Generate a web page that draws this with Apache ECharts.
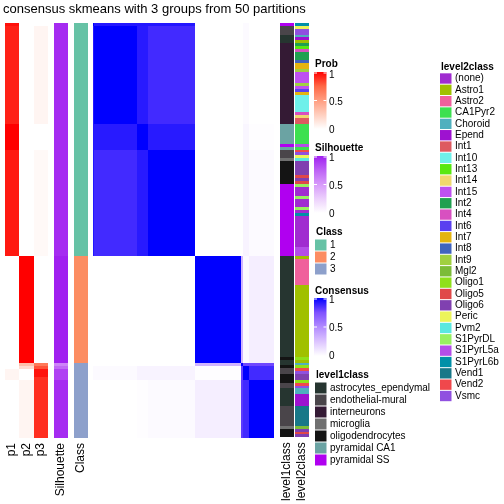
<!DOCTYPE html>
<html><head><meta charset="utf-8">
<script src="https://cdn.jsdelivr.net/npm/echarts@6/dist/echarts.min.js"></script>
<style>html,body{margin:0;padding:0;background:#fff}#c{width:504px;height:504px}</style>
</head><body><div id="c"></div>
<script>
// ---------------- DATA ----------------
const titleText = 'consensus skmeans with 3 groups from 50 partitions';
const probNames = ['p1', 'p2', 'p3'];
// run-length lists: [value, number of samples], in row/column order
const p1Runs = [[0.96,1],[0.92,34],[1,9],[0.94,37],[0,37],[0,1],[0,1],[0.05,4],[0,20]];
const p2Runs = [[0,81],[1,37],[0.33,1],[0.18,1],[0,4],[0.05,20]];
const p3Runs = [[0,1],[0.05,34],[0,9],[0.03,37],[0,37],[0.67,1],[0.8,1],[0.95,3],[0.88,1],[0.89,20]];
const silRuns = [[0.96,81],[1,37],[0.6,1],[0.72,1],[0.87,4],[0.96,20]];
const classNames = ['1', '2', '3'];
const classRuns = [['1',81],['2',37],['3',26]];
const level1Names = ['astrocytes_ependymal','endothelial-mural','interneurons','microglia','oligodendrocytes','pyramidal CA1','pyramidal SS'];
const level1Runs = [['pyramidal SS',1],['endothelial-mural',3],['astrocytes_ependymal',3],['interneurons',28],
  ['pyramidal CA1',7],['pyramidal SS',1],['pyramidal CA1',1],['endothelial-mural',3],['microglia',1],
  ['oligodendrocytes',8],['pyramidal SS',25],['astrocytes_ependymal',35],['oligodendrocytes',1],
  ['astrocytes_ependymal',2],['oligodendrocytes',1],['endothelial-mural',2],['oligodendrocytes',3],
  ['endothelial-mural',2],['astrocytes_ependymal',6],['endothelial-mural',7],['microglia',1],['oligodendrocytes',3]];
const level2Names = ['(none)','Astro1','Astro2','CA1Pyr2','Choroid','Epend','Int1','Int10','Int13','Int14','Int15',
  'Int2','Int4','Int6','Int7','Int8','Int9','Mgl2','Oligo1','Oligo5','Oligo6','Peric','Pvm2','S1PyrDL',
  'S1PyrL5a','S1PyrL6b','Vend1','Vend2','Vsmc'];
const level2Runs = [['S1PyrL6b',1],['Peric',1],['Vsmc',2],['Choroid',1],['Epend',1],['Astro1',1],
  ['Int2',1],['Int13',1],['Int4',1],['Int2',3],['Int8',1],['Int7',2],['Int9',1],['Int15',4],['Int9',1],
  ['Int15',1],['Int6',1],['Int7',1],['Int10',6],['Int4',1],['Int14',1],['Int1',2],
  ['CA1Pyr2',7],['S1PyrL5a',1],['CA1Pyr2',1],['Vend2',1],['Vsmc',1],['Peric',1],['Pvm2',1],
  ['Oligo6',5],['Oligo5',1],['Oligo6',1],['Oligo5',1],
  ['S1PyrDL',1],['(none)',3],['S1PyrDL',1],['(none)',3],['S1PyrDL',1],['(none)',1],['S1PyrL6b',1],['(none)',11],['S1PyrL5a',3],
  ['Astro1',1],['Astro2',9],['Astro1',25],['Oligo1',1],['Astro1',1],
  ['Choroid',1],['Oligo1',1],['Vend2',1],['Vsmc',1],['Oligo6',2],['Oligo1',1],['Vend2',1],['Vsmc',1],
  ['Choroid',2],['Epend',4],['Vend1',7],['Mgl2',1],['Oligo6',1],['Oligo5',1],['Oligo6',1]];
// consensus: samples fall into blocks; value between two blocks
const consBlockRuns = [[0,1],[1,34],[2,9],[3,37],[4,37],[5,1],[6,5],[7,20]];
const consBlockValues = [
  [1.00,0.93,0.93,0.93,0.00,0.00,0.02,0.00],
  [0.93,1.00,0.92,0.87,0.00,0.00,0.02,0.00],
  [0.93,0.92,1.00,0.92,0.00,0.00,0.04,0.01],
  [0.93,0.87,0.92,1.00,0.00,0.00,0.05,0.02],
  [0.00,0.00,0.00,0.00,1.00,0.32,0.02,0.07],
  [0.00,0.00,0.00,0.00,0.32,1.00,0.78,0.78],
  [0.02,0.02,0.05,0.05,0.01,0.80,1.00,0.87],
  [0.00,0.00,0.01,0.02,0.07,0.82,0.87,1.00]];
const legendTicks = ['1', '0.5', '0'];

// ---------------- STYLE ----------------
const probColors = ['#ffffff','#ffcfbf','#ff9e81','#ff6846','#ff0000'];
const silColors = ['#ffffff','#ecd0fc','#d79bfa','#bd62f5','#a020f0'];
const consColors = ['#ffffff','#dcc4ff','#b28bff','#7e51ff','#0000ff'];
const classColors = ['#66c2a5','#fc8d62','#8da0cb'];
const level1Colors = ['#263530','#4a454a','#341a34','#707070','#141414','#6ba3a3','#b000f0'];
const level2Colors = ['#a02cd0','#a0c000','#f0609c','#3de050','#4fb0be','#9e12d0','#de5a60','#6ef0ea','#58e810',
  '#f0d86e','#be50f0','#20a050','#d850c0','#5a40f0','#e4b410','#4064be','#a0d040','#7cbc38','#90e01a',
  '#e04848','#8040b0','#ecf45a','#5ae8e0','#98f060','#b44ee8','#0090a8','#187888','#f0484c','#9050e0'];
const FONT = 'Liberation Sans, Arial, sans-serif';

function expand(runs) { const out = []; runs.forEach(([v, n]) => { for (let i = 0; i < n; i++) out.push(v); }); return out; }
const p1 = expand(p1Runs), p2 = expand(p2Runs), p3 = expand(p3Runs), sil = expand(silRuns);
const cls = expand(classRuns), lv1 = expand(level1Runs), lv2 = expand(level2Runs), blk = expand(consBlockRuns);
const N = p1.length;
const samples = Array.from({length: N}, (_, i) => 's' + (i + 1));

const probData = [], silData = [], classData = [], lv1Data = [], lv2Data = [], consData = [];
for (let i = 0; i < N; i++) {
  probData.push([0, i, p1[i]], [1, i, p2[i]], [2, i, p3[i]]);
  silData.push([0, i, sil[i]]);
  classData.push([0, i, classNames.indexOf(cls[i])]);
  lv1Data.push([0, i, level1Names.indexOf(lv1[i])]);
  lv2Data.push([0, i, level2Names.indexOf(lv2[i])]);
  for (let j = 0; j < N; j++) consData.push([j, i, consBlockValues[blk[i]][blk[j]]]);
}

const TOP = 23, H = 415;
const cols = [
  {left: 5, width: 43, cats: probNames, labels: true},
  {left: 54, width: 14, cats: ['Silhouette'], labels: true},
  {left: 74, width: 14, cats: ['Class'], labels: true},
  {left: 93, width: 181, cats: samples, labels: false},
  {left: 280, width: 14, cats: ['level1class'], labels: true},
  {left: 295, width: 14, cats: ['level2class'], labels: true}];
const grids = cols.map(c => ({left: c.left, top: TOP, width: c.width, height: H}));
const xAxes = cols.map((c, k) => ({type: 'category', gridIndex: k, data: c.cats,
  axisLine: {show: false}, axisTick: {show: false}, splitLine: {show: false},
  axisLabel: {show: c.labels, interval: 0, rotate: 90, margin: 5, fontSize: 12, color: '#000', fontFamily: FONT}}));
const yAxes = cols.map((c, k) => ({type: 'category', gridIndex: k, data: samples, inverse: true, show: false}));
const datas = [probData, silData, classData, consData, lv1Data, lv2Data];
// cells snapped to whole pixels so neighbouring cells meet without seams
function cell(params, api) {
  const p = api.coord([api.value(0), api.value(1)]);
  const s = api.size([1, 1]);
  const x0 = Math.round(p[0] - s[0] / 2), x1 = Math.round(p[0] + s[0] / 2);
  const y0 = Math.round(p[1] - s[1] / 2), y1 = Math.round(p[1] + s[1] / 2);
  return {type: 'rect', shape: {x: x0, y: y0, width: x1 - x0, height: y1 - y0},
    style: {fill: api.visual('color')}};
}
const series = datas.map((d, k) => ({type: 'custom', xAxisIndex: k, yAxisIndex: k, data: d,
  encode: {x: 0, y: 1}, renderItem: cell, progressive: 0, animation: false, silent: true}));
const cont = (colors, si) => ({type: 'continuous', min: 0, max: 1, seriesIndex: si, dimension: 2, show: false, inRange: {color: colors}});
const pw = (colors, si) => ({type: 'piecewise', seriesIndex: si, dimension: 2, show: false,
  pieces: colors.map((c, i) => ({value: i, color: c}))});
const visualMaps = [cont(probColors, 0), cont(silColors, 1), pw(classColors, 2), cont(consColors, 3), pw(level1Colors, 4), pw(level2Colors, 5)];

// ---------------- LEGENDS (graphic) ----------------
const g = [];
g.push({type: 'text', left: 3, top: 3, style: {text: titleText, font: '13px ' + FONT, fill: '#000'}});
function gradLegend(title, colors, x, ty, by0, by1, labelYs) {
  g.push({type: 'text', x: x + 1, y: ty, style: {text: title, font: 'bold 10px ' + FONT, fill: '#000', verticalAlign: 'middle'}});
  const stops = colors.map((c, i) => ({offset: i / (colors.length - 1), color: c}));
  g.push({type: 'rect', shape: {x: x, y: by0, width: 12.5, height: by1 - by0},
    style: {fill: new echarts.graphic.LinearGradient(0, 1, 0, 0, stops)}});
  legendTicks.forEach((t, i) => {
    const ly = labelYs[i];
    g.push({type: 'text', x: x + 15, y: ly, style: {text: t, font: '10px ' + FONT, fill: '#000', verticalAlign: 'middle'}});
    if (i < 2) {
      const ty2 = i === 0 ? by0 + 1 : (by0 + by1) / 2;
      g.push({type: 'line', shape: {x1: x, y1: ty2, x2: x + 3, y2: ty2}, style: {stroke: '#fff', lineWidth: 1}});
      g.push({type: 'line', shape: {x1: x + 9.5, y1: ty2, x2: x + 12.5, y2: ty2}, style: {stroke: '#fff', lineWidth: 1}});
    }
  });
}
gradLegend('Prob', probColors, 314, 64, 72, 129, [75, 102.5, 130]);
gradLegend('Silhouette', silColors, 314, 148, 156, 213, [158.5, 186.5, 214]);
gradLegend('Consensus', consColors, 314, 291, 298, 356, [300.5, 328, 356]);
function catLegend(title, names, colors, x, ty, y0, step) {
  g.push({type: 'text', x: x + 1, y: ty, style: {text: title, font: 'bold 10px ' + FONT, fill: '#000', verticalAlign: 'middle'}});
  names.forEach((n, i) => {
    const y = y0 + i * step;
    g.push({type: 'rect', shape: {x: x, y: y - step / 2 + 0.5, width: 11.5, height: step - 1}, style: {fill: colors[i]}});
    g.push({type: 'text', x: x + 15, y: y, style: {text: n, font: '10px ' + FONT, fill: '#000', verticalAlign: 'middle'}});
  });
}
catLegend('Class', classNames, classColors, 315, 232, 245, 12);
catLegend('level1class', level1Names, level1Colors, 315, 375, 388, 12);
catLegend('level2class', level2Names, level2Colors, 440, 67, 78.5, 11.34);

const chart = echarts.init(document.getElementById('c'), null, {renderer: 'canvas'});
chart.setOption({animation: false, backgroundColor: '#fff', grid: grids, xAxis: xAxes, yAxis: yAxes,
  visualMap: visualMaps, series: series, graphic: g});
</script></body></html>
